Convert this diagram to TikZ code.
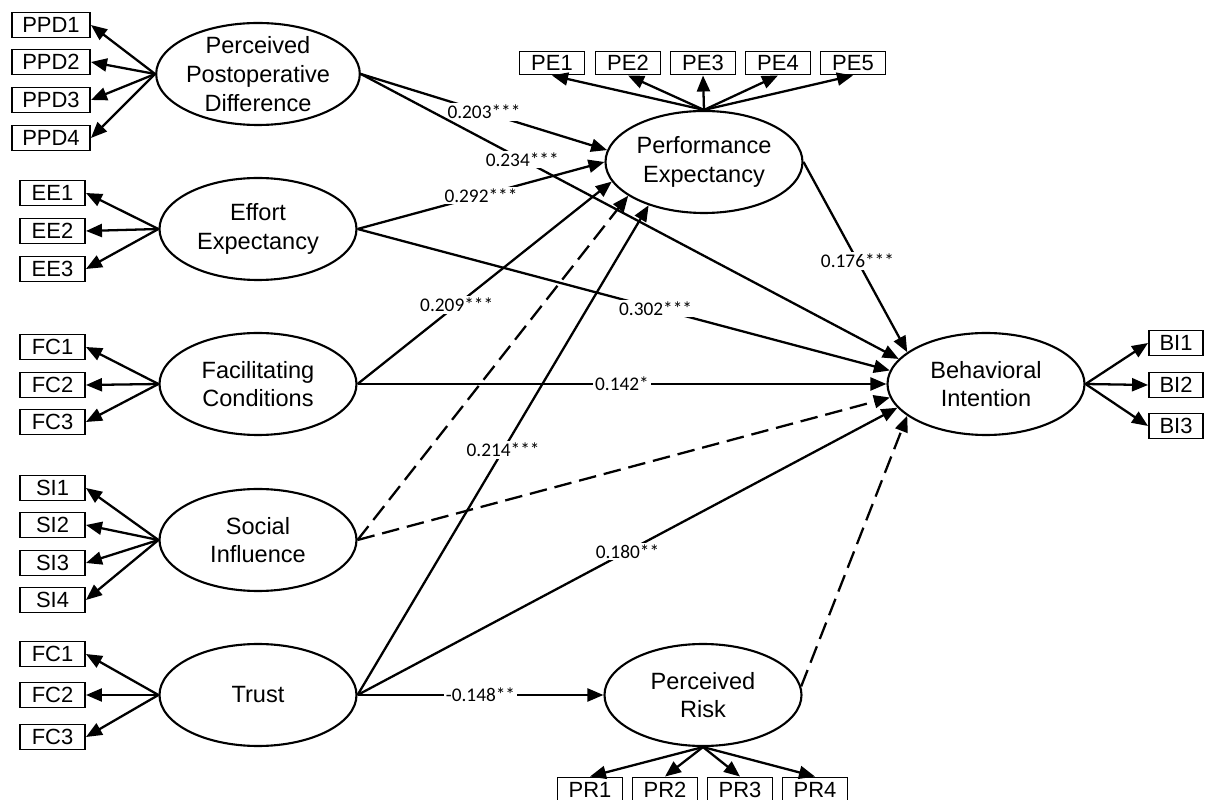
\documentclass[tikz,border=0pt]{standalone}
\usepackage{fontspec}
\setmainfont{Liberation Sans}
\newfontfamily\coeffont{Carlito}
\usetikzlibrary{arrows.meta, shapes.geometric}

\begin{document}
\begin{tikzpicture}[
    % Constructos latentes
    latent/.style={
        draw, ellipse, line width=1.2pt,
        minimum width=3.94cm, minimum height=2.04cm,
        inner xsep=0pt, inner ysep=-12pt,
        font=\fontsize{13.4}{16.3}\selectfont, align=center
    },
    % Indicadores
    ind/.style={
        draw, rectangle, line width=1.1pt,
        minimum width=1.3cm, minimum height=0.5cm, inner sep=0pt,
        font=\fontsize{12.5}{13}\selectfont
    },
    % Flechas
    arrow/.style={
        -{Triangle[length=0.32cm, width=0.26cm]}, line width=1.3pt
    },
    ns/.style={arrow, dash pattern=on 10pt off 4.5pt},
    coef/.style={
        fill=white, inner sep=1pt,
        font=\coeffont\fontsize{11}{12}\selectfont
    }
]
    \useasboundingbox (0,0) rectangle (24.12,-16);

    % 1. Constructos
    \node[latent] (ppd) at (5.16, -1.48)  {Perceived\\Postoperative\\Difference};
    \node[latent] (ee)  at (5.16, -4.58)  {Effort\\Expectancy};
    \node[latent] (fc)  at (5.16, -7.68)  {Facilitating\\Conditions};
    \node[latent] (si)  at (5.16, -10.8)  {Social\\Influence};
    \node[latent] (tr)  at (5.16, -13.9)  {Trust};
    \node[latent] (pe)  at (14.08, -3.24) {Performance\\Expectancy};
    \node[latent] (bi)  at (19.72, -7.68) {Behavioral\\Intention};
    \node[latent] (pr)  at (14.06, -13.9) {Perceived\\Risk};

    % 2. Indicadores (izquierda)
    \foreach \i/\y in {1/-0.5, 2/-1.24, 3/-2.0, 4/-2.76}
        \node[ind, minimum width=1.56cm] (ppd\i) at (1.02, \y) {PPD\i};
    \foreach \i/\y in {1/-3.86, 2/-4.62, 3/-5.38}
        \node[ind] (ee\i) at (1.05, \y) {EE\i};
    \foreach \i/\y in {1/-6.94, 2/-7.70, 3/-8.44}
        \node[ind] (fc\i) at (1.05, \y) {FC\i};
    \foreach \i/\y in {1/-9.76, 2/-10.5, 3/-11.26, 4/-12.0}
        \node[ind] (si\i) at (1.05, \y) {SI\i};
    \foreach \i/\y in {1/-13.08, 2/-13.9, 3/-14.74}
        \node[ind] (tr\i) at (1.05, \y) {FC\i};

    % 3. Indicadores (PE, BI, PR)
    \foreach \i/\x in {1/11.04, 2/12.56, 3/14.06, 4/15.56, 5/17.06}
        \node[ind, minimum height=0.46cm] (pe\i) at (\x, -1.26) {PE\i};
    \foreach \i/\y in {1/-6.86, 2/-7.70, 3/-8.52}
        \node[ind, minimum width=1.08cm] (bi\i) at (23.52, \y) {BI\i};
    \foreach \i/\x in {1/11.8, 2/13.3, 3/14.8, 4/16.3}
        \node[ind] (pr\i) at (\x, -15.8) {PR\i};

    % 4. Cargas
    \foreach \i in {1,...,4} \draw[arrow] (ppd.west) -- (ppd\i.east);
    \foreach \i in {1,...,3} \draw[arrow] (ee.west) -- (ee\i.east);
    \foreach \i in {1,...,3} \draw[arrow] (fc.west) -- (fc\i.east);
    \foreach \i in {1,...,4} \draw[arrow] (si.west) -- (si\i.east);
    \foreach \i in {1,...,3} \draw[arrow] (tr.west) -- (tr\i.east);
    \foreach \i in {1,...,5} \draw[arrow] (pe.north) -- (pe\i.south);
    \foreach \i in {1,...,3} \draw[arrow] (bi.east) -- (bi\i.west);
    \foreach \i in {1,...,4} \draw[arrow] (pr.south) -- (pr\i.north);

    % 5. Relaciones estructurales
    \draw[arrow] (ppd.east) -- node[coef, pos=0.5]  {0.203***} (pe.173);
    \draw[arrow] (ppd.east) -- node[coef, pos=0.3]  {0.234***} (bi.164);
    \draw[arrow] (ee.east)  -- node[coef, pos=0.5]  {0.292***} (pe.180);
    \draw[arrow] (ee.east)  -- node[coef, pos=0.56] {0.302***} (bi.172);
    \draw[arrow] (fc.east)  -- node[coef, pos=0.39] {0.209***} (pe.192);
    \draw[arrow] (fc.east)  -- node[coef, pos=0.5]  {0.142*} (bi.west);
    \draw[ns]    (si.east)  -- (pe.204);
    \draw[ns]    (si.east)  -- (bi.188);
    \draw[arrow] (tr.east)  -- node[coef, pos=0.5]  {0.214***} (pe.218);
    \draw[arrow] (tr.east)  -- node[coef, pos=0.5]  {0.180**} (bi.195);
    \draw[arrow] (tr.east)  -- node[coef, pos=0.5]  {-0.148**} (pr.west);
    \draw[arrow] (pe.east)  -- node[coef, pos=0.52] {0.176***} (bi.158);
    \draw[ns]    (pr.5)     -- (bi.202);

\end{tikzpicture}
\end{document}
